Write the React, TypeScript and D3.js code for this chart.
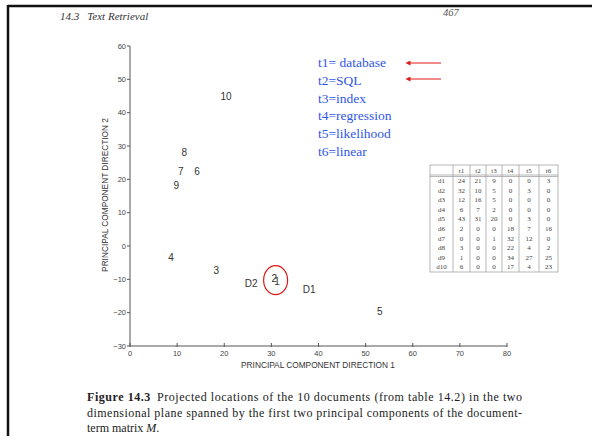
import React from "react";
import * as d3 from "d3";

const pointLabels = ["10", "8", "7", "6", "9", "4", "3", "D2", "2", "1", "D1", "5"];
const pointX = [20.4, 11.5, 10.8, 14.2, 9.8, 8.7, 18.3, 25.7, 30.6, 31.2, 38, 53];
const pointY = [45, 28.2, 22.3, 22.3, 18.1, -3.3, -7.4, -11.3, -9.8, -10.7, -13, -19.6];

const xTicks = [0, 10, 20, 30, 40, 50, 60, 70, 80];
const yTicks = [60, 50, 40, 30, 20, 10, 0, -10, -20, -30];

const termIds = ["t1", "t2", "t3", "t4", "t5", "t6"];
const termNames = ["database", "SQL", "index", "regression", "likelihood", "linear"];

const docIds = ["d1", "d2", "d3", "d4", "d5", "d6", "d7", "d8", "d9", "d10"];
const tableValues = [
  [24, 21, 9, 0, 0, 3],
  [32, 10, 5, 0, 3, 0],
  [12, 16, 5, 0, 0, 0],
  [6, 7, 2, 0, 0, 0],
  [43, 31, 20, 0, 3, 0],
  [2, 0, 0, 18, 7, 16],
  [0, 0, 1, 32, 12, 0],
  [3, 0, 0, 22, 4, 2],
  [1, 0, 0, 34, 27, 25],
  [6, 0, 0, 17, 4, 23],
];

const captionLines = [
  "Projected locations of the 10 documents (from table 14.2) in the two",
  "dimensional plane spanned by the first two principal components of the document-",
  "term matrix ",
];

export default function App() {
  const x = d3.scaleLinear().domain([0, 80]).range([130, 507]);
  const y = d3.scaleLinear().domain([-30, 60]).range([346, 46]);
  const axisColor = "#555";
  const sans = "'Liberation Sans', Arial, sans-serif";
  const serif = "'Liberation Serif', 'Times New Roman', serif";

  // table geometry
  const colEdges = [430, 453, 470, 486, 502, 519, 539, 558];
  const tTop = 165;
  const headH = 10;
  const rowH = 9.6;
  const tBottom = tTop + headH + rowH * docIds.length + 1;

  const circleX = x((pointX[8] + pointX[9]) / 2);
  const circleY = y((pointY[8] + pointY[9]) / 2);

  return (
    <svg width={592} height={444} style={{ position: "absolute", left: 0, top: 0, background: "#fff" }}>
      <defs>
        <marker id="ah" viewBox="0 0 10 10" refX="1" refY="5" markerWidth="6" markerHeight="5" orient="auto-start-reverse">
          <path d="M0,0 L10,5 L0,10 z" fill="#e01818" />
        </marker>
      </defs>
      <rect x={0} y={0} width={592} height={444} fill="#fff" />
      {/* page frame */}
      <line x1={8} y1={6} x2={592} y2={6} stroke="#111" strokeWidth={2.5} />
      <line x1={8} y1={5} x2={8} y2={436} stroke="#111" strokeWidth={2.5} />

      {/* running header */}
      <text x={60} y={20} fontFamily={serif} fontStyle="italic" fontSize={11} fill="#333">
        14.3<tspan dx={8}>Text Retrieval</tspan>
      </text>
      <text x={443} y={16} fontFamily={serif} fontStyle="italic" fontSize={10.5} fill="#555">467</text>

      {/* axes */}
      <line x1={x(0)} y1={y(60)} x2={x(0)} y2={y(-30)} stroke={axisColor} strokeWidth={1} />
      <line x1={x(0)} y1={y(-30)} x2={x(80)} y2={y(-30)} stroke={axisColor} strokeWidth={1} />
      {yTicks.map((t) => (
        <g key={"y" + t}>
          <line x1={x(0) - 3} x2={x(0)} y1={y(t)} y2={y(t)} stroke={axisColor} />
          <text x={x(0) - 4} y={y(t)} textAnchor="end" dominantBaseline="central" fontFamily={sans} fontSize={7.5} fill="#444">
            {t < 0 ? "\u2212" + Math.abs(t) : t}
          </text>
        </g>
      ))}
      {xTicks.map((t) => (
        <g key={"x" + t}>
          <line x1={x(t)} x2={x(t)} y1={y(-30) - 3} y2={y(-30) + 1} stroke={axisColor} />
          <text x={x(t)} y={y(-30) + 9.5} textAnchor="middle" fontFamily={sans} fontSize={7.5} fill="#444">
            {t}
          </text>
        </g>
      ))}
      <text x={318} y={368} textAnchor="middle" fontFamily={sans} fontSize={8.3} fill="#333">
        PRINCIPAL COMPONENT DIRECTION 1
      </text>
      <text transform={`translate(108,195) rotate(-90)`} textAnchor="middle" fontFamily={sans} fontSize={8.3} fill="#333">
        PRINCIPAL COMPONENT DIRECTION 2
      </text>

      {/* points */}
      {pointLabels.map((l, i) => (
        <text key={l} x={x(pointX[i])} y={y(pointY[i])} textAnchor="middle" dominantBaseline="central" fontFamily={sans} fontSize={10} fill="#333">
          {l}
        </text>
      ))}
      <ellipse cx={circleX} cy={circleY} rx={12} ry={14.5} fill="none" stroke="#e01818" strokeWidth={1.2} />

      {/* term legend */}
      {termIds.map((t, i) => (
        <text key={t} x={318} y={67 + i * 17.8} fontFamily={serif} fontSize={13.5} fill="#3157e6">
          {t + "=" + (i === 0 ? " " : "") + termNames[i]}
        </text>
      ))}
      <line x1={441} y1={63} x2={410} y2={63} stroke="#e01818" strokeWidth={1} markerEnd="url(#ah)" />
      <line x1={441} y1={79} x2={410} y2={79} stroke="#e01818" strokeWidth={1} markerEnd="url(#ah)" />

      {/* term-document table */}
      <g fontFamily={serif} fontSize={7} fill="#444">
        <rect x={colEdges[0]} y={tTop} width={colEdges[7] - colEdges[0]} height={tBottom - tTop} fill="none" stroke="#999" strokeWidth={0.7} />
        {colEdges.slice(1, 7).map((cx, i) => (
          <line key={"c" + i} x1={cx} x2={cx} y1={tTop} y2={tBottom} stroke="#999" strokeWidth={0.7} />
        ))}
        <line x1={colEdges[0]} x2={colEdges[7]} y1={tTop + headH} y2={tTop + headH} stroke="#999" strokeWidth={0.7} />
        <line x1={colEdges[0]} x2={colEdges[7]} y1={tTop + headH + 1.5} y2={tTop + headH + 1.5} stroke="#999" strokeWidth={0.7} />
        {termIds.map((t, j) => (
          <text key={"h" + t} x={(colEdges[j + 1] + colEdges[j + 2]) / 2} y={tTop + 7.5} textAnchor="middle">
            {t}
          </text>
        ))}
        {docIds.map((d, r) => (
          <g key={d}>
            <text x={(colEdges[0] + colEdges[1]) / 2} y={tTop + headH + 8 + r * rowH} textAnchor="middle">
              {d}
            </text>
            {tableValues[r].map((v, j) => (
              <text key={j} x={(colEdges[j + 1] + colEdges[j + 2]) / 2} y={tTop + headH + 8 + r * rowH} textAnchor="middle">
                {v}
              </text>
            ))}
          </g>
        ))}
      </g>

      {/* caption */}
      <g fontFamily={serif} fontSize={12} fill="#222">
        <text x={87} y={401} textLength={435} lengthAdjust="spacing">
          <tspan fontWeight="bold">Figure 14.3</tspan>
          <tspan dx={6}>{captionLines[0]}</tspan>
        </text>
        <text x={87} y={417} textLength={435} lengthAdjust="spacing">
          {captionLines[1]}
        </text>
        <text x={87} y={432}>
          {captionLines[2]}
          <tspan fontStyle="italic">M</tspan>.
        </text>
      </g>
    </svg>
  );
}
